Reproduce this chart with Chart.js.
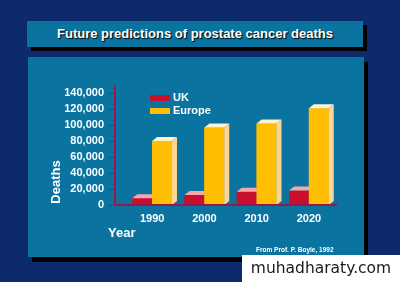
<!DOCTYPE html>
<html>
<head>
<meta charset="utf-8">
<script src="https://cdn.jsdelivr.net/npm/chart.js@4.4.1/dist/chart.umd.min.js"></script>
<style>
  html, body { margin: 0; padding: 0; }
  body {
    width: 400px; height: 282px; overflow: hidden; position: relative;
    background: #0c2a6c;
    font-family: "Liberation Sans", Arial, sans-serif;
    color: #fff;
  }
  .abs { position: absolute; }
  #titleBox {
    left: 27px; top: 21px; width: 336px; height: 26px;
    background: #0a73a0; box-shadow: 4px 4px 0 #000;
    text-align: center; line-height: 26px;
    font-weight: bold; font-size: 13px; text-shadow: 1px 1px 1px #000;
  }
  #panel {
    left: 28px; top: 57px; width: 336px; height: 200px;
    background: #0a73a0; box-shadow: 4px 5px 0 #000;
  }
  #chartWrap { left: 0; top: 0; width: 400px; height: 282px; }
  .lbl { font-weight: bold; white-space: nowrap; }
  .swatch { width: 20px; height: 6px; }
  #watermark {
    left: 242px; top: 255px; width: 158px; height: 27px; background: #fff;
    color: #1a1a1a; font-family: "DejaVu Sans", sans-serif; font-size: 15.5px;
    line-height: 27px; text-align: center;
  }
</style>
</head>
<body>
<div id="titleBox" class="abs">Future predictions of prostate cancer deaths</div>
<div id="panel" class="abs"></div>
<div id="chartWrap" class="abs"><canvas id="deathsChart"></canvas></div>

<div class="abs swatch" style="left:150px;top:95px;background:#c8102e"></div>
<div class="abs swatch" style="left:150px;top:108px;background:#ffbe00"></div>
<div class="abs lbl" style="left:173px;top:91px;font-size:11px">UK</div>
<div class="abs lbl" style="left:173px;top:104px;font-size:11px">Europe</div>

<div class="abs lbl" style="left:55px;top:182px;font-size:13px;transform:translate(-50%,-50%) rotate(-90deg)">Deaths</div>
<div class="abs lbl" style="left:108px;top:225px;font-size:13px">Year</div>
<div class="abs lbl" style="left:256px;top:246px;font-size:6.5px">From Prof. P. Boyle, 1992</div>
<div id="watermark" class="abs">muhadharaty.com</div>

<script>
const years = ['1990', '2000', '2010', '2020'];
const ukDeaths = [8500, 12500, 16500, 18000];
const europeDeaths = [80000, 97000, 102000, 121000];
const yTicks = [0, 20000, 40000, 60000, 80000, 100000, 120000, 140000];

const frontColors = ['#c8102e', '#ffbe00'];
const faceColors = [
    { top: '#f5a7aa', side: '#e3606e' },
    { top: '#fff2d2', side: '#ffd592' }
];
const axisColor = '#9a1848';
const depth = { dx: 5, dy: 4 };

function poly(ctx, pts, color) {
    ctx.beginPath();
    ctx.moveTo(pts[0][0], pts[0][1]);
    for (let i = 1; i < pts.length; i++) ctx.lineTo(pts[i][0], pts[i][1]);
    ctx.closePath();
    ctx.fillStyle = color;
    ctx.fill();
}

// repaint bars as 3D blocks, UK first so Europe sits in front of it
const bars3d = {
    id: 'bars3d',
    afterDatasetsDraw(chart) {
        const ctx = chart.ctx;
        ctx.save();
        chart.data.datasets.forEach((ds, i) => {
            const faces = faceColors[i];
            chart.getDatasetMeta(i).data.forEach(bar => {
                const { x, y, base, width } = bar.getProps(['x', 'y', 'base', 'width'], true);
                const l = x - width / 2, r = x + width / 2;
                poly(ctx, [[l, y], [r, y], [r, base], [l, base]], frontColors[i]);
                poly(ctx, [[l, y], [l + depth.dx, y - depth.dy], [r + depth.dx, y - depth.dy], [r, y]], faces.top);
                poly(ctx, [[r, y], [r + depth.dx, y - depth.dy], [r + depth.dx, base - depth.dy], [r, base]], faces.side);
            });
        });
        ctx.restore();
    }
};

// axis lines and little tick dashes
const axes = {
    id: 'axes',
    afterDraw(chart) {
        const ctx = chart.ctx;
        const area = chart.chartArea;
        const yScale = chart.scales.y;
        const x0 = area.left - 11;
        ctx.save();
        ctx.strokeStyle = axisColor;
        ctx.lineWidth = 2;
        ctx.beginPath();
        ctx.moveTo(x0, area.top - 8);
        ctx.lineTo(x0, area.bottom);
        ctx.lineTo(area.right + 2, area.bottom);
        ctx.stroke();
        ctx.lineWidth = 1;
        yTicks.forEach(v => {
            const py = Math.round(yScale.getPixelForValue(v)) + 0.5;
            ctx.beginPath();
            ctx.moveTo(x0 - 6, py);
            ctx.lineTo(x0, py);
            ctx.stroke();
        });
        ctx.restore();
    }
};

const tickFont = { family: '"Liberation Sans", Arial, sans-serif', size: 11, weight: 'bold' };

new Chart(document.getElementById('deathsChart'), {
    type: 'bar',
    data: {
        labels: years,
        datasets: [
            { label: 'UK', data: ukDeaths, backgroundColor: frontColors[0] },
            { label: 'Europe', data: europeDeaths, backgroundColor: frontColors[1] }
        ]
    },
    options: {
        responsive: true,
        maintainAspectRatio: false,
        animation: false,
        layout: { padding: { left: 50, right: 65, top: 93, bottom: 53 } },
        datasets: { bar: { barPercentage: 1, categoryPercentage: 0.76, borderWidth: 0 } },
        plugins: { legend: { display: false }, tooltip: { enabled: false } },
        scales: {
            x: {
                grid: { display: false, drawTicks: false },
                border: { display: false },
                ticks: { color: '#fff', font: tickFont, padding: 7 },
                afterFit: s => { s.height = 24; }
            },
            y: {
                min: 0,
                max: 140000,
                grid: { display: false, drawTicks: false },
                border: { display: false },
                ticks: {
                    stepSize: 20000,
                    autoSkip: false,
                    color: '#fff',
                    font: tickFont,
                    padding: 22,
                    callback: v => v.toLocaleString('en-US')
                },
                afterFit: s => { s.width = 76; }
            }
        }
    },
    plugins: [bars3d, axes]
});
</script>
</body>
</html>
